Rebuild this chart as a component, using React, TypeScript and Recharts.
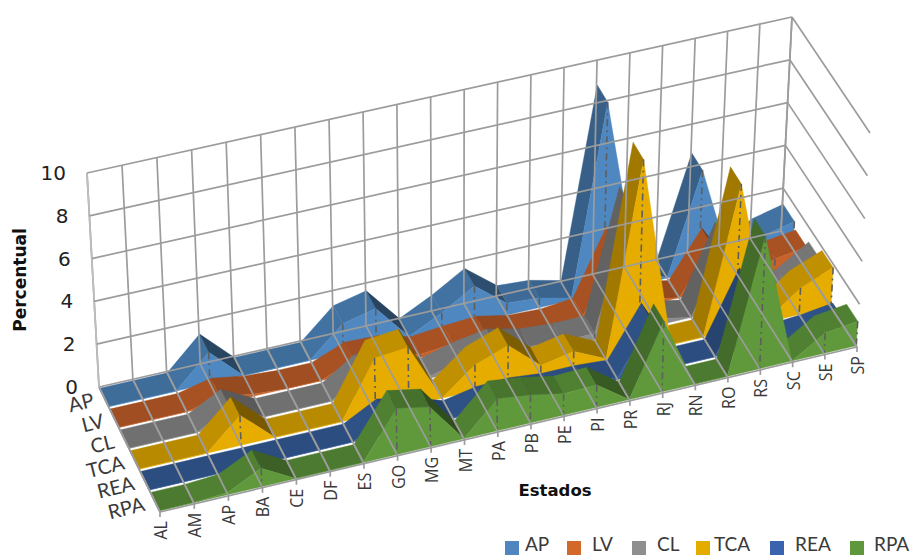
import React from 'react';
import { AreaChart, Area, XAxis, YAxis, Legend, Label } from 'recharts';

const CATEGORIES = ['AL','AM','AP','BA','CE','DF','ES','GO','MG','MT','PA','PB','PE','PI','PR','RJ','RN','RO','RS','SC','SE','SP'];
const SERIES_NAMES = ['AP','LV','CL','TCA','REA','RPA'];
const AP_VALUES = [0,0,0,1.45,0,0,0,1.35,1.7,0.05,0.8,1.7,0.55,0.45,0.1,8.9,0.8,0,4.7,0,0.95,1.3];
const LV_VALUES = [0,0,0,0.35,0.1,0,0,0.6,0.55,0.15,0.3,0.4,0.1,0.05,0.2,3.2,0.3,0,2.1,0,0.8,1.0];
const CL_VALUES = [0,0,0,0.8,0,0,0,1,0.8,0.1,0.5,0.75,0.4,0.3,0.3,6,0.3,0,3.3,0,0.4,1.35];
const TCA_VALUES = [0,0,0,1.4,0,0,0,2.6,2.75,0,1.2,1.75,0.45,0.75,0.05,9,0,0,6.8,0.1,1.25,1.85];
const REA_VALUES = [0,0,0,0,0,0,0,0.8,0.5,0,0.3,0.35,0.2,0.2,0.1,2.4,0,0,3,0,0.1,0.3];
const RPA_VALUES = [0,0,0.1,0.85,0,0,0,2.15,1.85,0,1.5,1.3,1.0,1.05,0,3.3,0,0,6.2,0,0.95,1.15];
const VALUE_TICKS = [0,2,4,6,8,10];

const ALL_VALUES = [AP_VALUES, LV_VALUES, CL_VALUES, TCA_VALUES, REA_VALUES, RPA_VALUES];
const FACE_COLORS = ['#4F88C1','#C8622A','#8C8C8C','#E6AC00','#37609F','#5F993C'];
const LEGEND_COLORS = ['#4F86BE','#D2692B','#8F8F8F','#E5AC00','#3B62AE','#5F973C'];
const LEGEND_ICON_X = [505,567,632,696,770,850];
const LEGEND_TEXT_X = [525,592,657,714,795,874];

const W = 913;
const H = 555;
const PLOT_LEFT = 1;
const PLOT_BOTTOM = H - 1;
const GRID = '#9C9C9C';
const TEXT = '#3A3A3A';
const toU = (x: number) => (x - PLOT_LEFT) / (W - PLOT_LEFT);
const toV = (y: number) => (PLOT_BOTTOM - y) / PLOT_BOTTOM;

const data = CATEGORIES.map((estado, j) => {
  const row: Record<string, string | number> = { estado };
  SERIES_NAMES.forEach((name, s) => { row[name] = ALL_VALUES[s][j]; });
  return row;
});

// View of the unit box: u along the states, v up, d from back wall to front edge.
const BOX = {
  bbl: [99, 387], btl: [87, 173], bbr: [781, 231], btr: [792, 17],
  fbl: [160, 512], ftl: [148, 298], fbr: [857, 347], ftr: [870, 133],
};
const mix = (a: number, b: number, t: number) => a + (b - a) * t;
function project(u0: number, v: number, d: number): [number, number] {
  // perspective: the states' spacing shrinks slightly towards the right
  const u = u0 + mix(0.045, 0.034, d) * u0 * (1 - u0);
  const out: number[] = [];
  for (let k = 0; k < 2; k++) {
    const bb = mix(BOX.bbl[k], BOX.bbr[k], u);
    const bt = mix(BOX.btl[k], BOX.btr[k], u);
    const fb = mix(BOX.fbl[k], BOX.fbr[k], u);
    const ft = mix(BOX.ftl[k], BOX.ftr[k], u);
    out.push(mix(mix(bb, bt, v), mix(fb, ft, v), d));
  }
  return out as [number, number];
}
const pstr = (list: [number, number][]) => list.map((p) => `${p[0].toFixed(1)},${p[1].toFixed(1)}`).join(' ');

function shade(hex: string, f: number) {
  const n = parseInt(hex.slice(1), 16);
  const c = [(n >> 16) & 255, (n >> 8) & 255, n & 255].map((x) => Math.round(x * f));
  return `rgb(${c[0]},${c[1]},${c[2]})`;
}
function topFactor(dv: number) {
  if (dv > 3) return 0.7;
  if (dv > 0.05) return 0.84;
  if (dv >= -0.05) return 0.8;
  return 0.8 - 0.3 * Math.min(1, -dv / 1.5);
}

function GridLine({ a, b, width = 1.7, color = GRID }: { a: [number, number]; b: [number, number]; width?: number; color?: string }) {
  return <line x1={a[0]} y1={a[1]} x2={b[0]} y2={b[1]} stroke={color} strokeWidth={width} />;
}

function Ribbon({ si, pts }: { si: number; pts: { u: number; v: number }[] }) {
  const d0 = (si + 0.06) / 6;
  const d1 = (si + 0.94) / 6;
  const base = FACE_COLORS[si];
  const tops: React.ReactNode[] = [];
  for (let j = 0; j < pts.length - 1; j++) {
    const a = pts[j];
    const b = pts[j + 1];
    const fa = project(a.u, a.v, d1);
    const fb = project(b.u, b.v, d1);
    const bb = project(b.u, b.v, d0);
    const ba = project(a.u, a.v, d0);
    const cross = (fb[0] - fa[0]) * (bb[1] - fa[1]) - (fb[1] - fa[1]) * (bb[0] - fa[0]);
    if (cross >= 0) continue;
    const col = shade(base, topFactor((b.v - a.v) * 10));
    tops.push(<polygon key={j} points={pstr([fa, fb, bb, ba])} fill={col} stroke={col} strokeWidth={0.4} />);
  }
  const front: [number, number][] = [
    ...pts.map((p) => project(p.u, p.v, d1)),
    project(pts[pts.length - 1].u, 0, d1),
    project(pts[0].u, 0, d1),
  ];
  return (
    <g>
      {tops}
      <polygon points={pstr(front)} fill={base} stroke={base} strokeWidth={0.4} />
      {pts.map((p, j) =>
        p.v > 0.012 ? (
          <line
            key={`drop${j}`}
            x1={project(p.u, p.v, d1)[0]}
            y1={project(p.u, p.v, d1)[1]}
            x2={project(p.u, 0, d1)[0]}
            y2={project(p.u, 0, d1)[1]}
            stroke="#5E5E5E"
            strokeWidth={1.6}
            strokeDasharray="7 4 2 4"
          />
        ) : null,
      )}
      {pts.map((p, j) =>
        p.v < 0.002 ? <GridLine key={`floor${j}`} a={project(p.u, 0, d0)} b={project(p.u, 0, d1)} /> : null,
      )}
    </g>
  );
}

function makeDot(si: number) {
  const pts: { u: number; v: number }[] = [];
  return (p: any) => {
    pts[p.index] = { u: toU(p.cx), v: toV(p.cy) };
    if (p.index < CATEGORIES.length - 1) return <g key={p.index} />;
    return <Ribbon key={p.index} si={si} pts={pts.slice()} />;
  };
}

function StateTick(p: any) {
  const u = toU(p.x);
  const f = project(u, 0, 1);
  return (
    <g>
      <GridLine a={project(u, 0, 0)} b={project(u, 1, 0)} />
      <GridLine a={project(u, 0, 0)} b={f} />
      <GridLine a={f} b={[f[0], f[1] + 5]} />
      <text
        transform={`translate(${f[0] + 7},${f[1] + 9}) rotate(-90) scale(0.92,1)`}
        textAnchor="end"
        fontFamily="'Open Sans', sans-serif"
        fontSize={17.5}
        fill={TEXT}
      >
        {p.payload.value}
      </text>
    </g>
  );
}

function ValueTick(p: any) {
  const v = toV(p.y);
  const a = project(0, v, 0);
  const b = project(1, v, 0);
  const c = project(1, v, 1);
  return (
    <g>
      <GridLine a={a} b={b} />
      <GridLine a={b} b={c} />
      {p.payload.value === 0 ? (
        <>
          <GridLine a={project(0, 0, 0)} b={project(0, 1, 0)} color="#BDBDBD" />
          <GridLine a={project(1, 0, 0)} b={project(1, 1, 0)} />
          <GridLine a={project(0, 0, 0)} b={project(0, 0, 1)} />
          <GridLine a={project(0, 0, 1)} b={project(1, 0, 1)} />
          {SERIES_NAMES.map((name, i) => {
            const m = project(0, 0, (i + 0.5) / 6);
            return (
              <text
                key={name}
                transform={`translate(${m[0] - 9},${m[1] + 9}) rotate(-14)`}
                textAnchor="end"
                fontFamily="Lato, sans-serif"
                fontSize={20}
                fill={TEXT}
              >
                {name}
              </text>
            );
          })}
        </>
      ) : null}
      <text x={a[0] - 21} y={a[1] + 7} textAnchor="end" fontFamily="'DejaVu Sans', sans-serif" fontSize={20} fill="#222">
        {p.payload.value}
      </text>
    </g>
  );
}

function LegendContent() {
  return (
    <div style={{ position: 'relative', width: W, height: 23 }}>
      {SERIES_NAMES.map((name, i) => (
        <React.Fragment key={name}>
          <span style={{ position: 'absolute', left: LEGEND_ICON_X[i], top: 9, width: 14, height: 14, background: LEGEND_COLORS[i] }} />
          <span style={{ position: 'absolute', left: LEGEND_TEXT_X[i], top: 0, fontFamily: 'Lato, sans-serif', fontSize: 19, lineHeight: '23px', color: TEXT }}>{name}</span>
        </React.Fragment>
      ))}
    </div>
  );
}

export default function App() {
  return (
    <div style={{ position: 'absolute', left: 0, top: 0, width: W, height: H, overflow: 'hidden', background: '#fff' }}>
      <AreaChart width={W} height={H} data={data} margin={{ top: 0, right: 0, bottom: 0, left: 0 }}>
        <XAxis dataKey="estado" height={1} interval={0} axisLine={false} tickLine={false} tick={StateTick} zIndex={0}>
          <Label content={() => (
            <text x={555} y={496} textAnchor="middle" fontFamily="'DejaVu Sans', sans-serif" fontWeight="bold" fontSize={16.5} fill="#111">Estados</text>
          )} />
        </XAxis>
        <YAxis domain={[0, 10]} ticks={VALUE_TICKS} width={1} interval={0} axisLine={false} tickLine={false} tick={ValueTick} zIndex={0}>
          <Label content={() => (
            <text transform="translate(26,280) rotate(-90)" textAnchor="middle" fontFamily="'DejaVu Sans', sans-serif" fontWeight="bold" fontSize={17} fill="#111">Percentual</text>
          )} />
        </YAxis>
        {SERIES_NAMES.map((name, i) => (
          <Area
            key={name}
            dataKey={name}
            name={name}
            type="linear"
            fill="none"
            stroke="none"
            isAnimationActive={false}
            activeDot={false}
            dot={makeDot(i)}
          />
        ))}
        <Legend
          verticalAlign="middle"
          layout="horizontal"
          content={LegendContent}
          wrapperStyle={{ position: 'absolute', left: 0, top: 532, width: W, height: 23 }}
        />
      </AreaChart>
    </div>
  );
}
